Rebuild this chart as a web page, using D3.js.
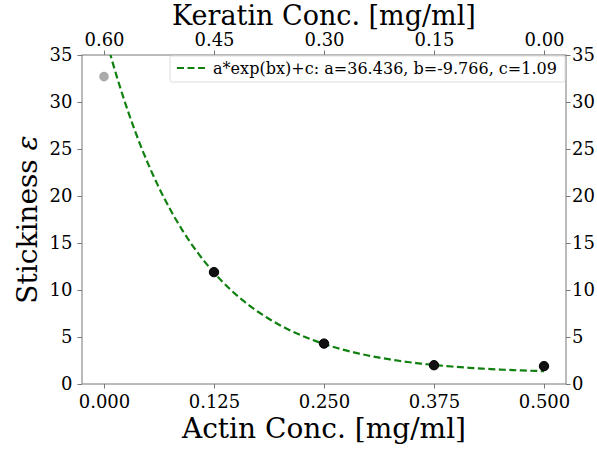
<!DOCTYPE html>
<html>
<head>
<meta charset="utf-8">
<script src="https://cdn.jsdelivr.net/npm/d3@7"></script>
<style>
  body { margin: 0; background: #fff; }
  text { font-family: "DejaVu Serif", serif; fill: #000; }
</style>
</head>
<body>
<div class="chart"></div>
<script>
// data
var actin = [0.125, 0.25, 0.375, 0.5];
var stickiness = [11.9, 4.3, 2.0, 1.9];
var outlierX = [0.0];
var outlierY = [32.7];
var fitA = 36.436, fitB = -9.766, fitC = 1.09;
var fitX = d3.range(0, 0.5001, 0.005);
var xTicks = [0, 0.125, 0.25, 0.375, 0.5];
var kTicks = [0.6, 0.45, 0.3, 0.15, 0.0];
var yTicks = [0, 5, 10, 15, 20, 25, 30, 35];

var width = 597, height = 450;
var margin = { left: 82, right: 31, top: 55, bottom: 66 };

var svg = d3.select(".chart").append("svg")
    .attr("width", width)
    .attr("height", height);

var x = d3.scaleLinear().domain([-0.025, 0.525]).range([margin.left, width - margin.right]);
var xk = d3.scaleLinear().domain([0.6 + 0.03, 0.6 - 1.2 * 0.525]).range(x.range());
var y = d3.scaleLinear().domain([0, 35]).range([height - margin.bottom, margin.top]);

svg.append("defs").append("clipPath").attr("id", "clip")
  .append("rect")
    .attr("x", x.range()[0]).attr("y", y.range()[1])
    .attr("width", x.range()[1] - x.range()[0])
    .attr("height", y.range()[0] - y.range()[1]);

function styleAxis(g) {
  g.selectAll(".domain").remove();
  g.selectAll(".tick line").attr("stroke", "#777").attr("stroke-width", 1);
  g.selectAll(".tick text").style("font-family", "DejaVu Serif").style("font-size", "18px").attr("fill", "#000");
}

svg.append("g")
    .attr("transform", "translate(0," + y.range()[0] + ")")
    .call(d3.axisBottom(x).tickValues(xTicks).tickSize(4.5).tickPadding(6.5).tickFormat(d3.format(".3f")))
    .call(styleAxis);

svg.append("g")
    .attr("transform", "translate(0," + y.range()[1] + ")")
    .call(d3.axisTop(xk).tickValues(kTicks).tickSize(4.5).tickPadding(5).tickFormat(d3.format(".2f")))
    .call(styleAxis);

svg.append("g")
    .attr("transform", "translate(" + x.range()[0] + ",0)")
    .call(d3.axisLeft(y).tickValues(yTicks).tickSize(4.5).tickPadding(5))
    .call(styleAxis);

svg.append("g")
    .attr("transform", "translate(" + x.range()[1] + ",0)")
    .call(d3.axisRight(y).tickValues(yTicks).tickSize(4.5).tickPadding(1.5))
    .call(styleAxis);

// frame
svg.append("rect")
    .attr("x", x.range()[0]).attr("y", y.range()[1])
    .attr("width", x.range()[1] - x.range()[0])
    .attr("height", y.range()[0] - y.range()[1])
    .attr("fill", "none")
    .attr("stroke", "#777")
    .attr("stroke-width", 1);

// fit curve
var line = d3.line()
    .x(function(d) { return x(d); })
    .y(function(d) { return y(fitA * Math.exp(fitB * d) + fitC); });

svg.append("path")
    .datum(fitX)
    .attr("clip-path", "url(#clip)")
    .attr("d", line)
    .attr("fill", "none")
    .attr("stroke", "#108010")
    .attr("stroke-width", 2.2)
    .attr("stroke-dasharray", "7,3.5");

// points
svg.append("g").selectAll("circle")
    .data(outlierX)
    .enter().append("circle")
    .attr("cx", function(d) { return x(d); })
    .attr("cy", function(d, i) { return y(outlierY[i]); })
    .attr("r", 4.8)
    .attr("fill", "#aaaaaa");

svg.append("g").selectAll("circle")
    .data(actin)
    .enter().append("circle")
    .attr("cx", function(d) { return x(d); })
    .attr("cy", function(d, i) { return y(stickiness[i]); })
    .attr("r", 4.7)
    .attr("fill", "#111")
    .attr("stroke", "#000")
    .attr("stroke-width", 1);

// legend
var lg = svg.append("g").attr("transform", "translate(170,56)");
lg.append("rect")
    .attr("width", 395).attr("height", 26)
    .attr("rx", 2)
    .attr("fill", "#fff")
    .attr("fill-opacity", 0.8)
    .attr("stroke", "#ddd");
lg.append("line")
    .attr("x1", 7).attr("x2", 35).attr("y1", 12).attr("y2", 12)
    .attr("stroke", "#108010")
    .attr("stroke-width", 2.2)
    .attr("stroke-dasharray", "7,3.5");
lg.append("text")
    .attr("x", 43).attr("y", 18)
    .style("font-size", "16px")
    .attr("textLength", 344)
    .text("a*exp(bx)+c: a=" + fitA + ", b=" + fitB + ", c=" + fitC);

// labels
svg.append("text")
    .attr("x", (x.range()[0] + x.range()[1]) / 2)
    .attr("y", 438)
    .attr("text-anchor", "middle")
    .style("font-size", "28px")
    .text("Actin Conc. [mg/ml]");

svg.append("text")
    .attr("x", (x.range()[0] + x.range()[1]) / 2)
    .attr("y", 25)
    .attr("text-anchor", "middle")
    .style("font-size", "27px")
    .text("Keratin Conc. [mg/ml]");

var yl = svg.append("text")
    .attr("transform", "translate(37," + ((y.range()[0] + y.range()[1]) / 2) + ") rotate(-90)")
    .attr("text-anchor", "middle")
    .style("font-size", "28px");
yl.append("tspan").text("Stickiness ");
yl.append("tspan").style("font-style", "italic").text("ε");
</script>
</body>
</html>
